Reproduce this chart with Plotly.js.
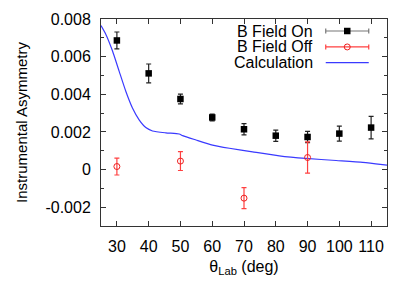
<!DOCTYPE html>
<html>
<head>
<meta charset="utf-8">
<script src="https://cdn.plot.ly/plotly-3.0.1.min.js"></script>
<style>html,body{margin:0;padding:0;background:#fff;}#chart{width:415px;height:291px;}</style>
</head>
<body>
<div id="chart"></div>
<script>
// Data
var onAngles = [30, 40, 50, 60, 70, 80, 90, 100, 110];
var onValues = [0.00686, 0.00511, 0.00375, 0.00277, 0.00214, 0.00180, 0.00173, 0.00191, 0.00223];
var onErrors = [0.00045, 0.00050, 0.00026, 0.00018, 0.00030, 0.00030, 0.00030, 0.00040, 0.00060];

var offAngles = [30, 50, 70, 90];
var offValues = [0.00016, 0.00045, -0.00152, 0.00064];
var offErrors = [0.00045, 0.00050, 0.00056, 0.00083];

var calcAngles = [25.0, 26.5, 28.6, 30.7, 32.8, 34.9, 37.0, 39.1, 41.2, 45.4, 49.6, 50.7, 54.9, 60.1, 65.4, 72.7, 81.1, 89.5, 99.0, 107.4, 113.6, 115.0];
var calcValues = [0.00765, 0.00719, 0.00631, 0.00523, 0.00416, 0.00327, 0.00264, 0.00223, 0.00205, 0.00195, 0.00189, 0.00180, 0.00157, 0.00130, 0.00113, 0.00094, 0.00073, 0.00059, 0.00048, 0.00038, 0.00026, 0.00023];

var seriesNames = ["B Field On", "B Field Off", "Calculation"];
var xTickVals = [30, 40, 50, 60, 70, 80, 90, 100, 110];
var yTickVals = [-0.002, 0, 0.002, 0.004, 0.006, 0.008];
var yTickText = ["-0.002", "0", "0.002", "0.004", "0.006", "0.008"];

// legend key layout (on a hidden 0..1 axis pair)
var keyTextX = 0.748;
var keyMidX = 0.861;
var keyHalf = 0.0752;
var keyRowsY = [0.942, 0.865, 0.789];

var FONT = "Liberation Sans, Arial, Helvetica, sans-serif";
var BLACK_ERR = "#222222";
var RED = "#ee2020";
var RED_ERR = "#ff4040";
var BLUE = "#3a3aff";

var traces = [
  {x: calcAngles, y: calcValues, mode: "lines", line: {color: BLUE, width: 1.2, shape: "spline", smoothing: 0.6}, hoverinfo: "skip"},
  {x: onAngles, y: onValues, mode: "markers", marker: {symbol: "square", size: 6.5, color: "#000"},
   error_y: {type: "data", array: onErrors, visible: true, color: BLACK_ERR, thickness: 1.2, width: 2.5}},
  {x: offAngles, y: offValues, mode: "markers", marker: {symbol: "circle-open", size: 6, color: RED, line: {width: 1, color: RED}},
   error_y: {type: "data", array: offErrors, visible: true, color: RED_ERR, thickness: 1.2, width: 2.5}},
  // legend keys
  {x: [keyMidX], y: [keyRowsY[0]], xaxis: "x2", yaxis: "y2", mode: "markers",
   marker: {symbol: "square", size: 6.5, color: "#000"},
   error_x: {type: "constant", value: keyHalf, visible: true, color: "#777", thickness: 1.2, width: 2.5}},
  {x: [keyMidX], y: [keyRowsY[1]], xaxis: "x2", yaxis: "y2", mode: "markers",
   marker: {symbol: "circle-open", size: 6, color: RED, line: {width: 1, color: RED}},
   error_x: {type: "constant", value: keyHalf, visible: true, color: RED_ERR, thickness: 1.2, width: 2.5}},
  {x: [keyMidX - keyHalf, keyMidX + keyHalf], y: [keyRowsY[2], keyRowsY[2]], xaxis: "x2", yaxis: "y2",
   mode: "lines", line: {color: BLUE, width: 1.2}}
];

var annotations = seriesNames.map(function (n, i) {
  return {text: n, xref: "paper", yref: "paper", x: keyTextX, y: keyRowsY[i], xanchor: "right", yanchor: "middle",
    showarrow: false, font: {family: FONT, size: 16, color: "#000"}};
});

var axisCommon = {
  showline: true, linecolor: "#333", linewidth: 1, mirror: "allticks",
  ticks: "inside", ticklen: 5, tickcolor: "#333", tickwidth: 1,
  showgrid: false, zeroline: false,
  tickfont: {family: FONT, size: 16, color: "#000"}
};

var layout = {
  width: 415, height: 291,
  margin: {l: 101, r: 28, t: 19, b: 65},
  paper_bgcolor: "#fff", plot_bgcolor: "#fff",
  showlegend: false,
  font: {family: FONT, size: 16, color: "#000"},
  xaxis: Object.assign({}, axisCommon, {
    range: [25, 115], tickmode: "array", tickvals: xTickVals, ticklabelstandoff: 6,
    title: {text: "θ<sub>Lab</sub> (deg)", font: {family: FONT, size: 16, color: "#000"}, standoff: 6}
  }),
  yaxis: Object.assign({}, axisCommon, {
    range: [-0.003, 0.008], tickmode: "array", tickvals: yTickVals, ticktext: yTickText, ticklabelstandoff: 6,
    minor: {dtick: 0.001, ticks: "inside", ticklen: 3, tickcolor: "#333", showgrid: false},
    title: {text: "Instrumental Asymmetry", font: {family: FONT, size: 15, color: "#000"}, standoff: 14}
  }),
  xaxis2: {overlaying: "x", range: [0, 1], visible: false, fixedrange: true},
  yaxis2: {overlaying: "y", range: [0, 1], visible: false, fixedrange: true},
  annotations: annotations
};

Plotly.newPlot("chart", traces, layout, {staticPlot: true, displayModeBar: false});
</script>
</body>
</html>
